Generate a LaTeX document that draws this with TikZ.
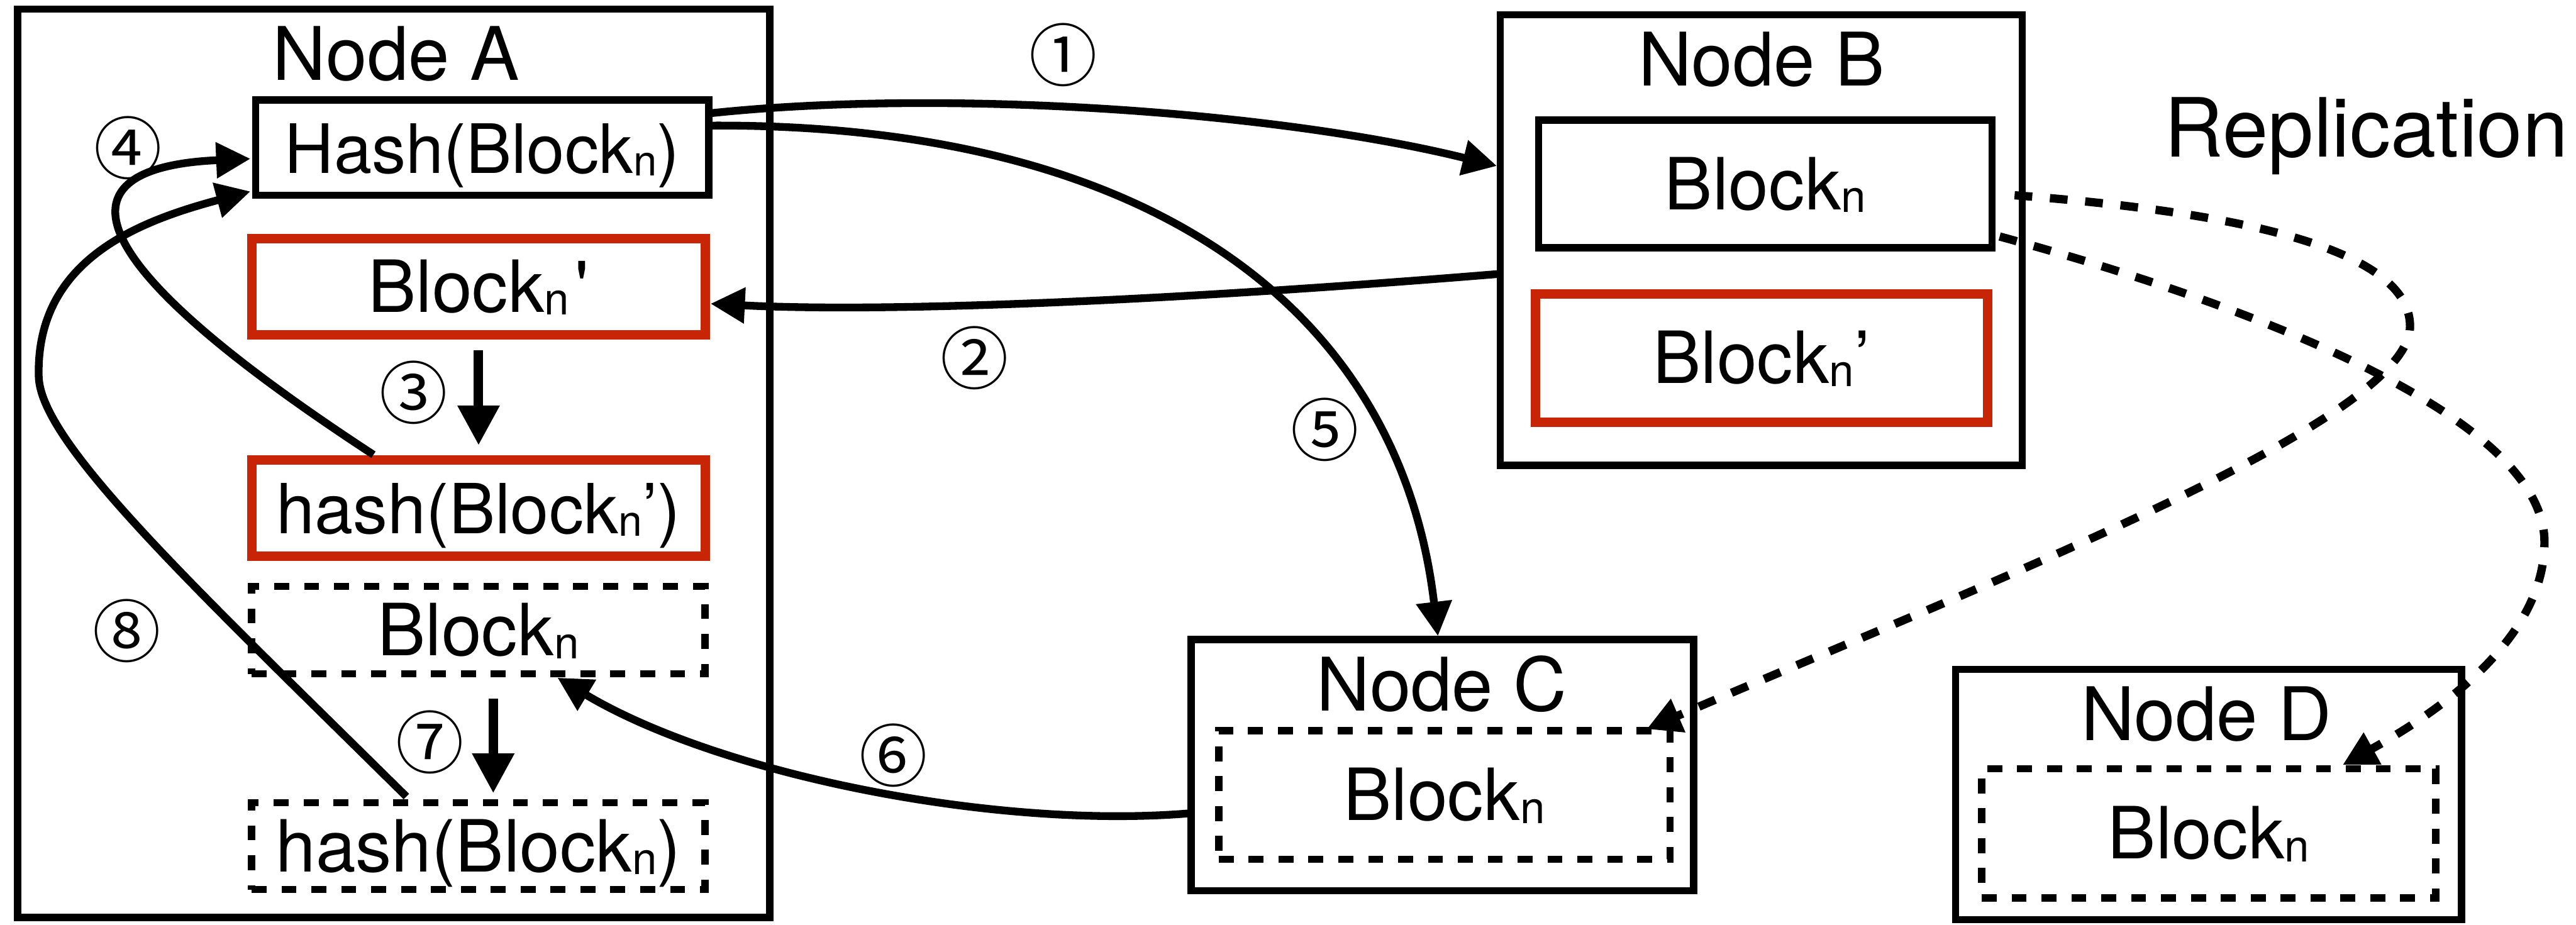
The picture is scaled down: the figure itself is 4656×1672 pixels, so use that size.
\documentclass[tikz,border=0pt]{standalone}
\usepackage{fontspec}
\setmainfont{TeX Gyre Heros}
\newfontfamily\circnum{Noto Sans CJK JP}
\usetikzlibrary{arrows.meta}
\definecolor{blockred}{RGB}{200,37,6}
% block name with its small subscript n
\newcommand{\nsub}{\raisebox{-0.04em}{\scalebox{0.62}{n}}}
\newcommand{\Blk}{Block\nsub}
\newcommand{\bxfont}{\fontsize{37}{42}\selectfont}
\newcommand{\ttlfont}{\fontsize{38}{43}\selectfont}
\newcommand{\repfont}{\fontsize{42}{47}\selectfont}
\begin{document}
\begin{tikzpicture}[x=0.01cm,y=-0.01cm,
  every node/.style={inner sep=0pt, outer sep=0pt},
  frame/.style={draw, line width=0.13cm},
  solidbox/.style={draw, line width=0.13cm, text height=0.92cm, text depth=0pt, font=\bxfont},
  redbox/.style={draw=blockred, line width=0.17cm, text height=0.92cm, text depth=0pt, font=\bxfont},
  dotbox/.style={draw, line width=0.13cm, dash pattern=on 0.27cm off 0.27cm, text height=0.92cm, text depth=0pt, font=\bxfont},
  title/.style={font=\ttlfont, anchor=base},
  circ/.style={font=\circnum\fontsize{35}{40}\selectfont},
  flow/.style={line width=0.14cm, -{Triangle[length=0.62cm,width=0.62cm]}},
  bigflow/.style={line width=0.17cm, -{Triangle[length=0.72cm,width=0.72cm]}},
  repl/.style={line width=0.15cm, dash pattern=on 0.32cm off 0.32cm, -{Triangle[length=0.62cm,width=0.62cm]}}]

\fill[white] (0,0) rectangle (4656,1672);
\useasboundingbox (0,0) rectangle (4656,1672);

% node frames
\node[frame, minimum width=13.59cm, minimum height=16.41cm] (Afr) at (711.5,837.5) {};
\node[frame, minimum width=9.43cm, minimum height=8.14cm] (Bfr) at (3183.5,434) {};
\node[frame, minimum width=9.08cm, minimum height=4.54cm] (Cfr) at (2607,1383) {};
\node[frame, minimum width=9.14cm, minimum height=4.52cm] (Dfr) at (3992,1436) {};

% titles
\node[title] (Attl) at (716,145) {Node A};
\node[title] (Bttl) at (3184,155) {Node B};
\node[title] (Cttl) at (2606,1285) {Node C};
\node[title] (Dttl) at (3988,1339) {Node D};
\node[font=\repfont, anchor=base] (reptxt) at (4277,284) {Replication};

% blocks held by node A
\node[solidbox, minimum width=8.19cm, minimum height=1.72cm, font=\fontsize{35}{40}\selectfont] (Ahash) at (871.5,267) {Hash(\Blk)};
\node[redbox, minimum width=8.20cm, minimum height=1.74cm] (Ablkp) at (865,518) {\Blk\kern0.08em\textquotesingle};
\node[redbox, minimum width=8.20cm, minimum height=1.74cm, font=\fontsize{35.5}{40}\selectfont] (Ahashp) at (865,918) {hash(\Blk’)};
\node[dotbox, minimum width=8.19cm, minimum height=1.58cm] (Ablk) at (864.5,1139) {\Blk};
\node[dotbox, minimum width=8.19cm, minimum height=1.57cm] (Ahashd) at (864.5,1529.5) {hash(\Blk)};

% blocks held by nodes B, C, D
\node[solidbox, minimum width=8.19cm, minimum height=2.31cm] (Bblk) at (3190.5,332.5) {\Blk};
\node[redbox, minimum width=8.16cm, minimum height=2.32cm] (Bblkp) at (3184,647) {\Blk’};
\node[dotbox, minimum width=8.15cm, minimum height=2.32cm] (Cblk) at (2610.5,1437) {\Blk};
\node[dotbox, minimum width=8.20cm, minimum height=2.33cm] (Dblk) at (3992,1506.5) {\Blk};

% step 1: send hash to B
\draw[flow] ([shift={(0,-62)}]Ahash.east) .. controls (1700,160) and (2300,200) .. ([shift={(-6,-134)}]Bfr.west);
% step 2: B returns the block
\draw[flow] ([shift={(0,61)}]Bfr.west) .. controls (2100,545) and (1600,565) .. ([shift={(9,31)}]Ablkp.east);
% step 3: hash it
\draw[bigflow, shorten <=0.28cm, shorten >=0.26cm] (Ablkp.south) -- (Ahashp.north);
% step 4: compare
\draw[flow] ([shift={(-190,-9)}]Ahashp.north) .. controls (60,420) and (150,300) .. ([shift={(-9,20)}]Ahash.west);
% step 5: ask C
\draw[flow] ([shift={(0,-40)}]Ahash.east) .. controls (2080,222) and (2530,560) .. ([shift={(-8,-6)}]Cfr.north);
% step 6: C returns its replica
\draw[flow] ([shift={(0,87)}]Cfr.west) .. controls (1800,1500) and (1300,1400) .. ([shift={(143,7)}]Ablk.south);
% step 7: hash the replica
\draw[bigflow, shorten <=0.45cm, shorten >=0.17cm] ([shift={(27,0)}]Ablk.south) -- ([shift={(27,0)}]Ahashd.north);
% step 8: compare again
\draw[flow] ([shift={(-130,-11)}]Ahashd.north) .. controls (350,1060) and (72,800) .. (70,680) .. controls (65,470) and (250,400) .. ([shift={(-9,79)}]Ahash.west);

% replication from B to C and D
\draw[repl] ([shift={(41,20.5)}]Bblk.east) .. controls (4000,380) and (4356,440) .. (4356,590) .. controls (4356,760) and (3600,1050) .. ([shift={(-42,-3)}]Cblk.north east);
\draw[repl] ([shift={(14,95)}]Bblk.east) .. controls (4100,560) and (4599,760) .. (4599,980) .. controls (4599,1150) and (4420,1280) .. ([shift={(242,-7)}]Dblk.north);

% step numbers
\node[circ] (s1) at (1922,99) {①};
\node[circ] (s2) at (1762,647) {②};
\node[circ] (s3) at (747,710) {③};
\node[circ] (s4) at (231,268) {④};
\node[circ] (s5) at (2395,777) {⑤};
\node[circ] (s6) at (1615,1366) {⑥};
\node[circ] (s7) at (777,1342) {⑦};
\node[circ] (s8) at (229,1140) {⑧};
\end{tikzpicture}
\end{document}
